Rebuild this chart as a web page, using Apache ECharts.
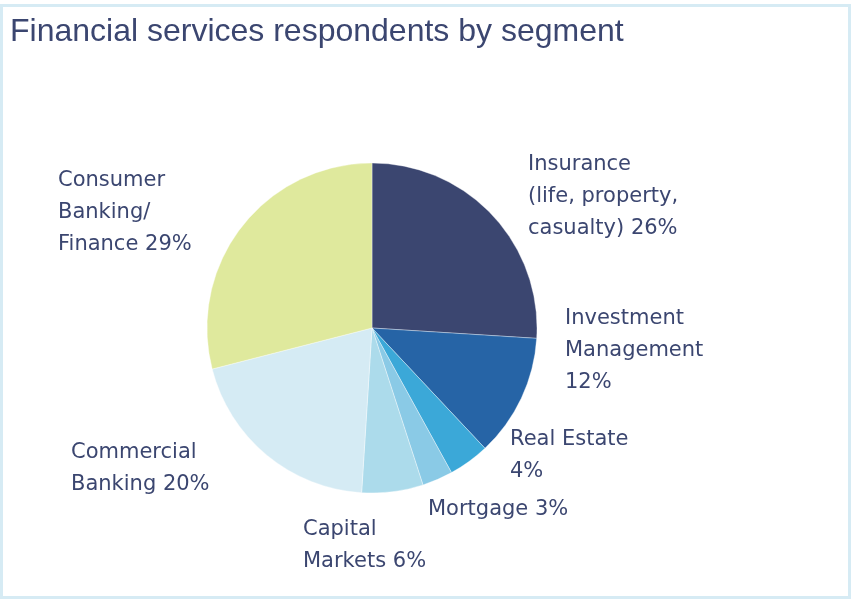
<!DOCTYPE html>
<html>
<head>
<meta charset="utf-8">
<style>
  html, body { margin: 0; padding: 0; background: #fff; }
  #chart { width: 852px; height: 600px; }
</style>
<script src="https://cdn.jsdelivr.net/npm/echarts@6/dist/echarts.min.js"></script>
</head>
<body>
<div id="chart"></div>
<script>
// Segment names (label text) and shares in percent
const segments = [
  'Insurance\n(life, property,\ncasualty)',
  'Investment\nManagement\n',
  'Real Estate\n',
  'Mortgage',
  'Capital\nMarkets',
  'Commercial\nBanking',
  'Consumer\nBanking/\nFinance'
];
const shares = [26, 12, 4, 3, 6, 20, 29];
const sliceColors = ['#3b4670', '#2664a6', '#3ba8d8', '#8acae6', '#acdbeb', '#d5ebf4', '#dfe99d'];

// Where each label block sits (left edge, top edge)
const labelSpots = [
  [528, 149], [565, 303], [510, 424], [428, 494], [303, 514], [71, 437], [58, 165]
];

const chart = echarts.init(document.getElementById('chart'), null, { renderer: 'canvas' });

chart.setOption({
  backgroundColor: '#ffffff',
  animation: false,
  title: {
    text: 'Financial services respondents by segment',
    left: 5,
    top: 11,
    textStyle: {
      fontFamily: 'Liberation Sans, Arial, sans-serif',
      fontSize: 32,
      fontWeight: 'normal',
      color: '#3b4670'
    }
  },
  graphic: [{
    type: 'rect',
    silent: true,
    shape: { x: 1.5, y: 5.5, width: 848, height: 592 },
    style: { fill: 'none', stroke: '#d6ebf4', lineWidth: 3 }
  }],
  series: [{
    type: 'pie',
    center: [372, 328],
    radius: 165,
    startAngle: 90,
    clockwise: true,
    data: segments.map((name, i) => ({
      name: name,
      value: shares[i],
      itemStyle: { color: sliceColors[i] }
    })),
    itemStyle: { borderColor: 'rgba(255,255,255,0.6)', borderWidth: 0.6 },
    emphasis: { disabled: true },
    label: {
      show: true,
      position: 'outside',
      // names ending in a line break put the percentage on its own line
      formatter: p => p.name + (p.name.endsWith('\n') ? '' : ' ') + p.value + '%',
      fontFamily: 'DejaVu Sans, sans-serif',
      fontSize: 21,
      lineHeight: 32,
      color: '#3b4670',
      align: 'left'
    },
    labelLine: { show: false },
    labelLayout: params => {
      const spot = labelSpots[params.dataIndex];
      return { x: spot[0], y: spot[1], align: 'left', verticalAlign: 'top' };
    }
  }]
});
</script>
</body>
</html>
